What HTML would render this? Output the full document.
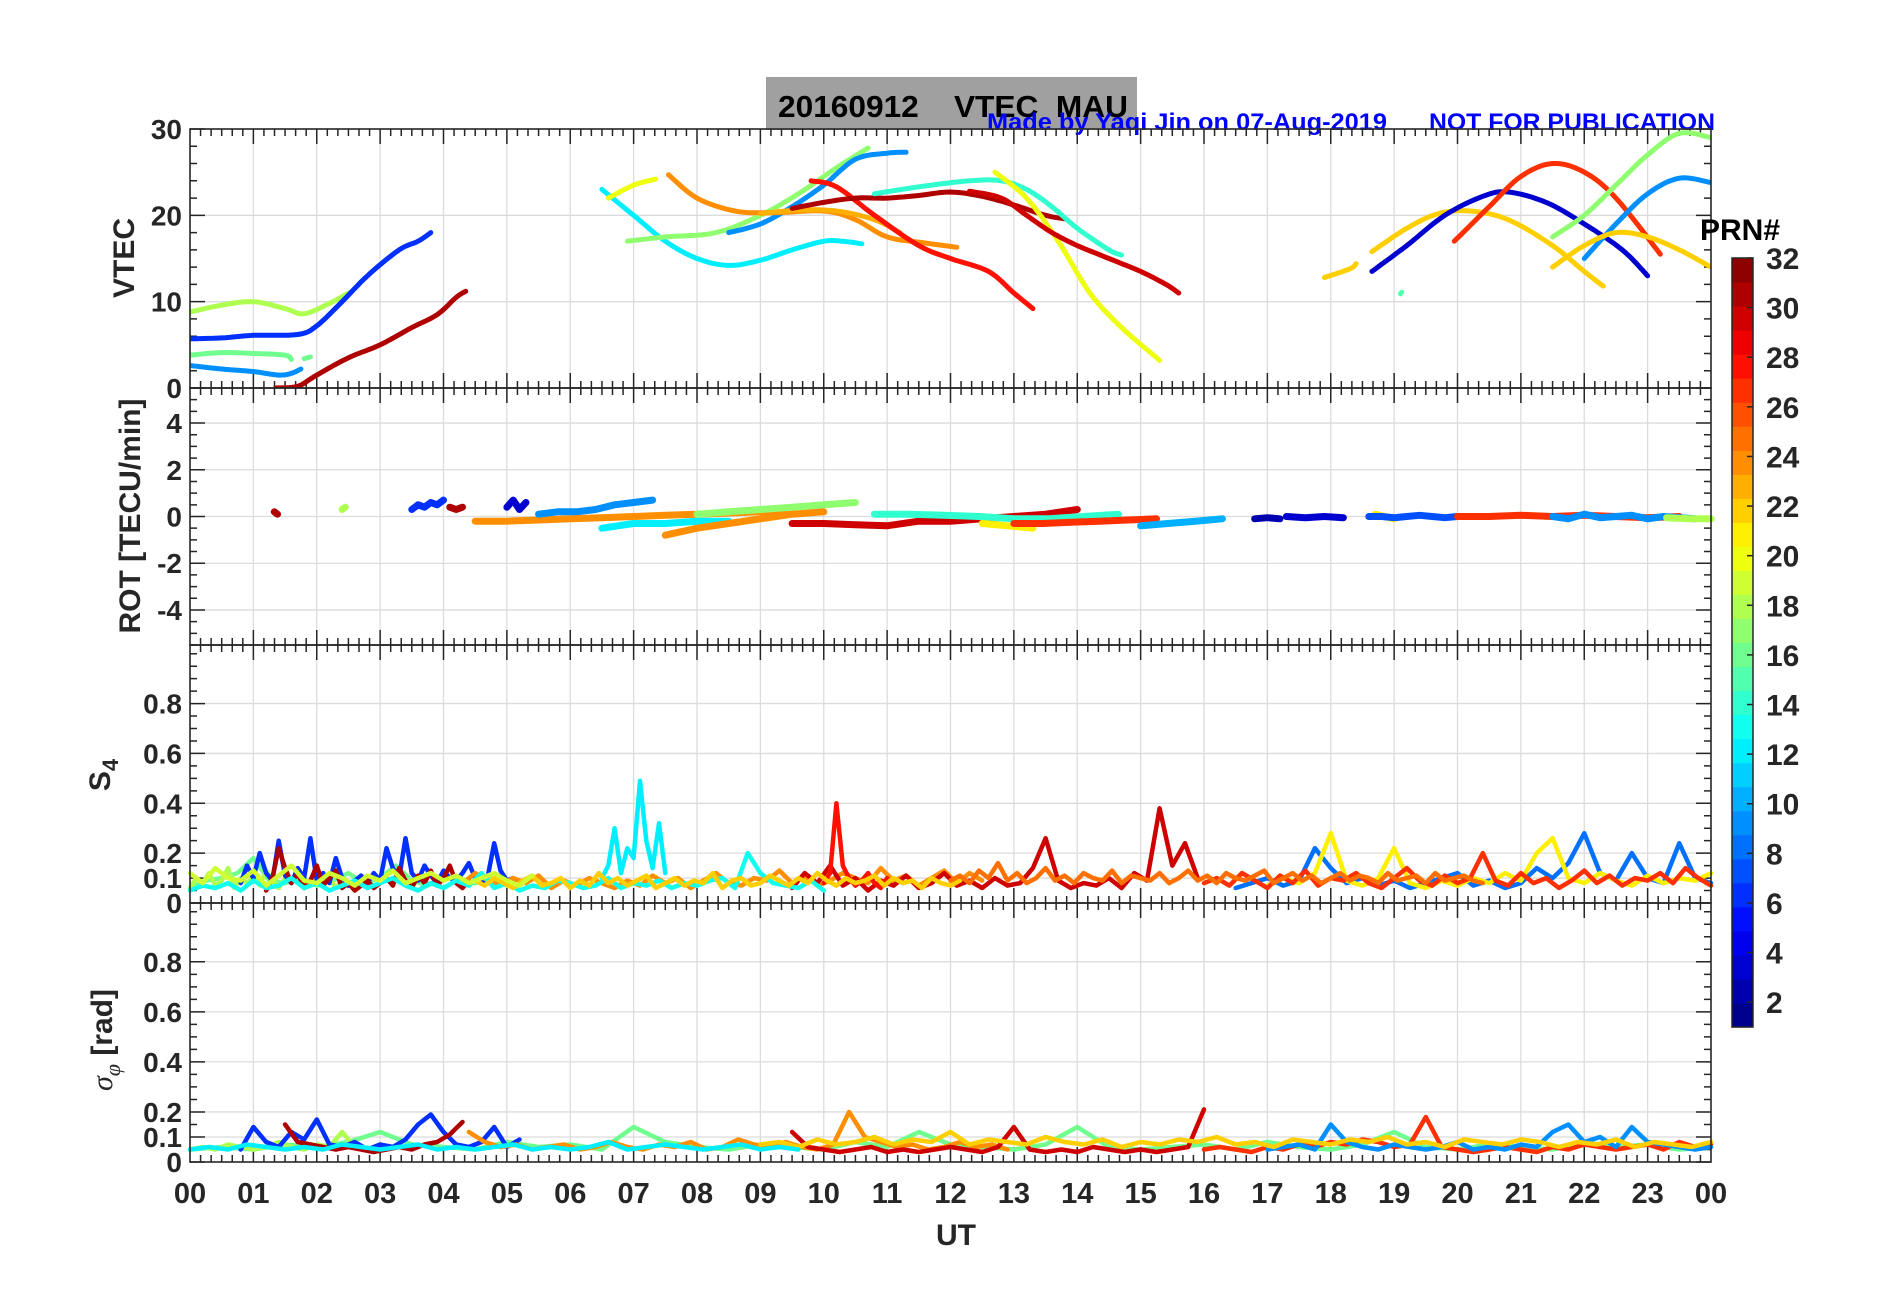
<!DOCTYPE html>
<html><head><meta charset="utf-8"><style>
body{margin:0;background:#fff}
svg{display:block}
text{font-family:"Liberation Sans",Arial,sans-serif;font-weight:bold;fill:#262626}
</style></head><body>
<svg id="chart" width="1902" height="1292" viewBox="0 0 1902 1292" xmlns="http://www.w3.org/2000/svg">
<rect x="0" y="0" width="1902" height="1292" fill="#fff"/>
<rect x="766" y="77" width="371" height="53" fill="#a0a0a0"/>
<text x="778" y="117" font-size="31" fill="#000" style="fill:#000" textLength="350" lengthAdjust="spacingAndGlyphs" xml:space="preserve">20160912    VTEC  MAU</text>
<text x="987" y="130" font-size="24" style="fill:#0000ff" textLength="400" lengthAdjust="spacingAndGlyphs">Made by Yaqi Jin on 07-Aug-2019</text>
<text x="1429" y="130" font-size="24" style="fill:#0000ff" textLength="286" lengthAdjust="spacingAndGlyphs">NOT FOR PUBLICATION</text>
<g id="layer"></g>
</svg>
<script>
// ---------- data ----------
const hourLabels=["00","01","02","03","04","05","06","07","08","09","10","11","12","13","14","15","16","17","18","19","20","21","22","23","00"];
const vtecTicks=[0,10,20,30];
const rotTicks=[-4,-2,0,2,4];
const s4Ticks=[0,0.1,0.2,0.4,0.6,0.8];
const cbTicks=[2,4,6,8,10,12,14,16,18,20,22,24,26,28,30,32];
// VTEC arcs: prn, then [hour,value] pairs
const vtecPrn=[18,6,16,16,9,31,12,20,17,9,24,23,28,31,14,20,30,22,22,3,27,17,9,22,15];
const vtecPts=[
[[0,8.8],[0.5,9.6],[1,10],[1.5,9.2],[1.8,8.6],[2.2,9.8],[2.5,11]],
[[0,5.7],[0.5,5.8],[1,6.1],[1.7,6.2],[2,7.2],[2.4,10],[2.8,13],[3.3,16],[3.6,17],[3.8,18]],
[[0,3.8],[0.5,4.1],[1,4],[1.5,3.8],[1.6,3.3]],
[[1.8,3.4],[1.9,3.6]],
[[0,2.6],[0.5,2.2],[1,1.9],[1.4,1.5],[1.6,1.7],[1.75,2.2]],
[[1.35,0],[1.7,0.2],[2,1.5],[2.5,3.5],[3,5],[3.5,7],[3.9,8.5],[4.2,10.5],[4.35,11.2]],
[[6.5,23],[7,20],[7.5,17],[8,15],[8.5,14.2],[9,14.8],[9.5,16],[10,17],[10.3,17],[10.6,16.7]],
[[6.6,22],[7,23.5],[7.35,24.2]],
[[6.9,17],[7.5,17.5],[8.3,18],[9,20],[9.6,22.5],[10.2,25.5],[10.7,27.8]],
[[8.5,18],[9,19],[9.5,21],[10,23.5],[10.5,26.5],[11,27.2],[11.3,27.3]],
[[7.55,24.7],[8,22],[8.6,20.5],[9.2,20.3],[10,20.5],[10.5,19.5],[11,17.5],[11.6,16.8],[12.1,16.3]],
[[9,20.2],[9.6,20.6],[10.2,20.5],[10.8,19.5],[11.2,18]],
[[9.8,24],[10.2,23.3],[10.8,20],[11.5,16.5],[12,15],[12.6,13.5],[13,11],[13.3,9.2]],
[[9.5,20.8],[10,21.5],[10.5,22],[11,22],[11.5,22.3],[12,22.7],[12.5,22.2],[13,21.2],[13.5,20],[13.8,19.6]],
[[10.8,22.5],[11.5,23.3],[12.3,24],[12.8,24],[13.2,23],[13.6,21],[14,18.5],[14.5,16],[14.7,15.4]],
[[12.7,25],[13.2,22],[13.7,17],[14.2,11],[14.7,7],[15.3,3.2]],
[[12.3,22.8],[12.8,22],[13.2,20],[13.6,18],[14,16.5],[14.5,15],[15,13.5],[15.4,12],[15.6,11]],
[[17.9,12.8],[18.3,13.8],[18.4,14.4]],
[[18.65,15.8],[19.2,18.5],[19.7,20.2],[20.2,20.5],[20.8,19.5],[21.5,16.5],[22,13.5],[22.3,11.8]],
[[18.65,13.5],[19.2,16.5],[19.8,20],[20.4,22.2],[20.8,22.7],[21.4,21.5],[22,19],[22.6,16],[23,13]],
[[19.95,17],[20.5,21],[21,24.5],[21.5,26],[22,25],[22.5,22],[23.2,15.5]],
[[21.5,17.5],[22,20],[22.5,23.5],[23,27],[23.5,29.5],[24,29]],
[[22,15],[22.5,19],[23,22.5],[23.5,24.3],[24,23.8]],
[[21.5,14],[22,16.5],[22.5,18],[23,17.5],[23.5,16],[24,14]],
[[19.1,10.9],[19.12,11.1]]
];
// ROT segments: prn, start hour, step, values
const rotPrn=[31,18,6,31,24,3,9,12,24,17,30,14,21,27,10,2,3,21,7,27,9,18];
const rotStart=[1.33,2.4,3.5,4.1,4.5,5.0,5.5,6.5,7.5,8.0,9.5,10.8,12.5,13.0,15.0,16.8,17.3,18.7,18.6,20.0,21.5,23.3];
const rotStep=[0.05,0.05,0.1,0.1,0.5,0.1,0.3,0.5,0.5,0.5,0.5,0.55,0.4,0.45,0.43,0.2,0.3,0.3,0.2,0.5,0.25,0.35];
const rotVals=[
[0.2,0.1],[0.3,0.4],[0.3,0.5,0.4,0.6,0.5,0.7],[0.4,0.3,0.4],
[-0.2,-0.2,-0.15,-0.1,-0.05,0,0.05,0.1,0.15,0.2,0.2],[0.4,0.7,0.3,0.6],
[0.1,0.2,0.2,0.3,0.5,0.6,0.7],[-0.5,-0.3,-0.3,-0.2,-0.2],[-0.8,-0.5,-0.3,-0.1,0.1,0.2],
[0.1,0.2,0.3,0.4,0.5,0.6],[-0.3,-0.3,-0.35,-0.4,-0.2,-0.2,-0.1,0,0.1,0.3],
[0.1,0.1,0.05,0,-0.1,-0.1,0,0.1],[-0.3,-0.4,-0.5],[-0.3,-0.3,-0.25,-0.2,-0.15,-0.1],
[-0.4,-0.3,-0.2,-0.1],[-0.1,-0.05,-0.1],[0,-0.05,0,-0.05],[0.1,-0.1],
[0,0,-0.05,0,0.05,0,-0.05,0],[0,0,0.05,0,0.05,0,-0.05,0],
[0,-0.1,0.1,-0.05,0,0.05,-0.1,0,-0.05,-0.1],[-0.05,-0.1,-0.1]
];
// S4 traces (values in hundredths)
const s4Prn=[16,18,6,31,24,12,8,21,30,28,27,13,22,25,19];
const s4Start=[0,0,0.8,1.2,4.3,6.5,16.5,17,9.5,10,16,0,4.5,12,0];
const s4Step=[0.25,0.1,0.1,0.1,0.2,0.1,0.25,0.25,0.2,0.1,0.2,0.2,0.15,0.15,0.2];
const s4Vals=[
[6,9,10,12,18,9,8,10,7,9,12,8,10,15,9,7,11,9,8,10,7],
[6,10,8,12,7,9,14,6,10,8,11,7,13,9,6,10,8,12,9,7,11,8,10,6,9,7],
[8,15,10,20,12,9,25,11,8,14,10,26,9,12,8,18,10,7,9,11,8,12,9,22,14,10,26,12,9,15,11,8,13,10,9,12,16,10,8,11,24,13,9,10,8],
[5,10,22,14,8,12,6,9,15,7,10,13,6,8,5,7,9,6,8,10,7,14,9,6,11,8,13,7,10,15,8,6,9],
[8,12,9,7,10,8,11,6,9,7,10,8,6,9,7,11,8,10,6,9,12,8,7,10,9,13,8,11,7,9,12,10,8,14,9,11,7,10,13,8,12,9],
[10,15,30,12,22,18,49,25,14,32,12],
[6,8,10,7,9,22,14,8,10,7,9,6,8,10,12,7,9,6,8,14,10,16,28,12,9,20,10,8,24,10,8],
[7,10,8,12,28,9,7,10,22,8,6,9,7,10,8,12,9,20,26,10,8,12,9,7,11,8,10,9,12],
[6,12,8,15,7,10,5,9,7,11,6,8,12,7,9,6,10,7,8,14,26,9,6,8,7,10,6,12,9,38,15,24,10],
[8,12,40,15,10,7,9,12,8,6,10],
[8,10,7,12,9,6,11,8,13,7,10,9,12,8,6,10,14,9,7,11,8,10,20,9,7,12,8,10,6,9,13,8,11,7,10,9,12,8,14,10,7],
[5,7,6,8,5,9,6,7,10,6,8,5,7,9,6,8,10,7,5,8,6,9,7,12,6,8,5,7,6,9,8,6,7,10,6,8,7,9,6,8,7,9,10,6,20,12,8,7,6,9,5],
[9,7,10,8,6,9,11,7,8,10,6,9,7,12,8,10,7,9,11,6,8,10,7,9,8,12,6,9,10,7,8,11,9,7,10,8,12,9,7,10,8,9,11,7,10,8,9,6,10,8,7,9],
[9,11,8,13,10,16,9,12,8,10,14,9,11,8,12,10,9,13,8,11,10,9,12,8,10,13,9,11,8,12,10,9,11,13,8,10,12,9,11,8,10,12,9,11,10,8,12,9,10,11,8,12,9,10,11,9,8],
[12,8,14,10,9,13,7,11,15,9,8,12,10,7,11,9,13,8,10,12,9,11,8,10,12,9,7,11]
];
// sigma-phi traces (hundredths)
const sigPrn=[16,18,6,31,24,30,27,9,22,12];
const sigStart=[0,0,0.8,1.5,4.4,9.5,16,17,9,0];
const sigStep=[0.5,0.2,0.2,0.2,0.25,0.25,0.25,0.25,0.3,0.3];
const sigVals=[
[5,6,5,7,6,8,12,7,6,5,8,6,7,5,14,8,6,5,7,6,5,8,6,12,7,6,5,7,14,6,5,6,7,5,8,6,5,7,12,6,5,7,6,5,8,6,7,5,6],
[5,6,5,7,6,5,6,8,6,5,7,6,12,6,5,7],
[5,14,8,6,12,9,17,7,6,8,5,7,6,9,15,19,12,7,6,8,14,6,9],
[15,8,7,6,5,6,5,4,5,6,5,7,8,11,16],
[12,8,6,7,5,6,7,5,6,8,6,5,7,6,8,5,6,9,7,6,8,6,5,7,20,10,8,6,7,5,6,8,6,7,5],
[12,6,5,4,5,6,4,5,4,5,6,5,4,6,14,5,4,5,4,6,5,4,5,4,5,6,21],
[5,6,5,4,6,5,7,6,8,7,9,8,6,7,18,6,5,4,5,6,5,4,6,5,7,6,5,6,7,5,8,6,7],
[5,6,7,5,15,8,6,5,7,6,5,6,8,5,6,5,7,6,12,15,8,10,6,14,8,7,6,5,6],
[7,8,6,9,7,8,10,7,9,8,12,7,9,8,7,10,8,7,9,6,8,7,9,8,10,7,8,6,9,8,7,9,8,10,7,8,6,9,8,7,9,8,6,8,7,9,6,8,7,6,8],
[5,6,5,7,6,5,6,5,7,6,5,6,7,5,6,5,6,7,5,6,5,6,8,5,6,7,6,5,6,7,5,6,5]
];

// ---------- layout ----------
const NS="http://www.w3.org/2000/svg";
const layer=document.getElementById('layer');
const X0=190,X1=1711;
const panels=[
 {name:'vtec',top:129,bot:388,min:0,max:30,ticks:vtecTicks,minor:2},
 {name:'rot',top:388,bot:645,min:-5.5,max:5.5,ticks:rotTicks,minor:0.5},
 {name:'s4',top:645,bot:903,min:0,max:1.035,ticks:s4Ticks,minor:0.05},
 {name:'sigma',top:903,bot:1162,min:0,max:1.035,ticks:s4Ticks,minor:0.05}
];
function xs(h){return X0+(X1-X0)*h/24;}
function ysF(p){return v=>p.bot-(p.bot-p.top)*(v-p.min)/(p.max-p.min);}
function jet(prn){
 const t=(prn-0.5)/32;
 const f=c=>Math.max(0,Math.min(1,1.5-Math.abs(4*t-c)));
 return 'rgb('+Math.round(255*f(3))+','+Math.round(255*f(2))+','+Math.round(255*f(1))+')';
}
function mk(tag,attrs,parent){const e=document.createElementNS(NS,tag);for(const k in attrs)e.setAttribute(k,attrs[k]);(parent||layer).appendChild(e);return e;}
function fmt(v){return (Math.abs(v)<1e-9)?'0':String(v);}

panels.forEach((p,pi)=>{
 const ys=ysF(p);
 const g=mk('g',{});
 
 
 for(let h=1;h<24;h++){const l=mk('line',{x1:xs(h),x2:xs(h),y1:p.top,y2:p.bot,stroke:'#dcdcdc','stroke-width':1.3},g);
  }
 p.ticks.forEach(v=>{if(v===p.min)return;const l=mk('line',{x1:X0,x2:X1,y1:ys(v),y2:ys(v),stroke:'#dcdcdc','stroke-width':1.3},g);
  });
 let d='';
 for(let m=1;m<144;m++){if(m%6===0)continue;const x=xs(m/6);d+=`M${x},${p.top}v7M${x},${p.bot}v-7`;}
 for(let h=1;h<24;h++){const x=xs(h);d+=`M${x},${p.top}v15M${x},${p.bot}v-15`;}
 const nMin=Math.round((p.max-p.min)/p.minor);
 for(let k=0;k<=nMin;k++){const v=Math.ceil(p.min/p.minor)*p.minor+k*p.minor;if(v>p.max)break;const y=ys(v);
  const major=p.ticks.some(t=>Math.abs(t-v)<1e-6);const L=major?15:7;d+=`M${X0},${y}h${L}M${X1},${y}h-${L}`;}
 const tk=mk('path',{d:d,stroke:'#262626','stroke-width':1.5,fill:'none'},g);
 
 p.ticks.forEach(v=>{const t=mk('text',{x:X0-8,y:ys(v)+10,'text-anchor':'end','font-size':28},g);t.textContent=fmt(v);
  });
 p.g=g;p.ys=ys;
});

function drawPath(pts,prn,w,name,g){
 const d=pts.map((q,i)=>(i?'L':'M')+q[0].toFixed(1)+','+q[1].toFixed(1)).join('');
 const e=mk('path',{d:d,stroke:jet(prn),'stroke-width':w,fill:'none','stroke-linejoin':'round','stroke-linecap':'round'},g);
 
 
}
{const defs=mk('defs',{});const cp=mk('clipPath',{id:'c0'},defs);mk('rect',{x:X0,y:129,width:X1-X0,height:259},cp);}
// VTEC
{const p=panels[0];const g=mk('g',{'clip-path':'url(#c0)'});
 vtecPts.forEach((arr,i)=>{const pts=[];for(let k=0;k<arr.length-1;k++){const a=arr[k],b=arr[k+1];
  for(let s=0;s<8;s++){const t=s/8;const am=arr[k-1]||a,bn=arr[k+2]||b;
   const cr=(p0,p1,p2,p3)=>0.5*((2*p1)+(-p0+p2)*t+(2*p0-5*p1+4*p2-p3)*t*t+(-p0+3*p1-3*p2+p3)*t*t*t);
   pts.push([xs(cr(am[0],a[0],b[0],bn[0])),p.ys(cr(am[1],a[1],b[1],bn[1]))]);}}
  const l=arr[arr.length-1];pts.push([xs(l[0]),p.ys(l[1])]);
  drawPath(pts,vtecPrn[i],5,'vtec-arc-prn'+vtecPrn[i],g);});}
// ROT
{const p=panels[1];rotVals.forEach((vals,i)=>{const pts=vals.map((v,k)=>[xs(rotStart[i]+k*rotStep[i]),p.ys(v)]);
 drawPath(pts,rotPrn[i],7,'rot-trace-prn'+rotPrn[i]);});}
// S4
{const p=panels[2];s4Vals.forEach((vals,i)=>{const pts=vals.map((v,k)=>[xs(s4Start[i]+k*s4Step[i]),p.ys(v/100)]);
 drawPath(pts,s4Prn[i],4.5,'s4-trace-prn'+s4Prn[i]);});}
// sigma
{const p=panels[3];sigVals.forEach((vals,i)=>{const pts=vals.map((v,k)=>[xs(sigStart[i]+k*sigStep[i]),p.ys(v/100)]);
 drawPath(pts,sigPrn[i],4.5,'sigma-trace-prn'+sigPrn[i]);});}
// frames
panels.forEach(p=>{const r=mk('rect',{x:X0,y:p.top,width:X1-X0,height:p.bot-p.top,fill:'none',stroke:'#262626','stroke-width':1.6});
 });
hourLabels.forEach((s,i)=>{const t=mk('text',{x:xs(i),y:1203,'text-anchor':'middle','font-size':29});t.textContent=s;
 });
{const t=mk('text',{x:956,y:1245,'text-anchor':'middle','font-size':30});t.textContent='UT';
 }
function ytitle(txt,x,y,name,fs){const t=mk('text',{x:0,y:0,'text-anchor':'middle','font-size':fs||30,transform:`translate(${x},${y}) rotate(-90)`});t.innerHTML=txt;
 return t;}
ytitle('VTEC',134,258,'vtec-y-axis-title');
ytitle('ROT [TECU/min]',140,516,'rot-y-axis-title');
ytitle('S<tspan dy="8" font-size="22">4</tspan>',110,775,'s4-y-axis-title');
ytitle('<tspan font-style="italic" font-family="Liberation Serif" font-weight="normal">σ</tspan><tspan dy="8" font-size="22" font-style="italic" font-family="Liberation Serif" font-weight="normal">φ</tspan><tspan dy="-8"> [rad]</tspan>',112,1040,'sigma-y-axis-title');
{const top=258,bot=1027,cx=1732,cw=21;const g=mk('g',{});
 
 const segH=(bot-top)/32;
 for(let k=1;k<=32;k++){const r=mk('rect',{x:cx,y:bot-k*segH,width:cw,height:segH+0.6,fill:jet(k)},g);
  }
 mk('rect',{x:cx,y:top,width:cw,height:bot-top,fill:'none',stroke:'#262626','stroke-width':1.5},g);
 const cy=v=>top+(32-v)*(bot-top)/31;
 cbTicks.forEach(v=>{mk('line',{x1:cx+cw-6,x2:cx+cw,y1:cy(v),y2:cy(v),stroke:'#262626','stroke-width':1.5},g);
  const t=mk('text',{x:1766,y:cy(v)+11,'font-size':30},g);t.textContent=v;
  });
 const t=mk('text',{x:1700,y:240,'font-size':30,style:'fill:#000'},g);t.textContent='PRN#';
 }
</script>
</body></html>
